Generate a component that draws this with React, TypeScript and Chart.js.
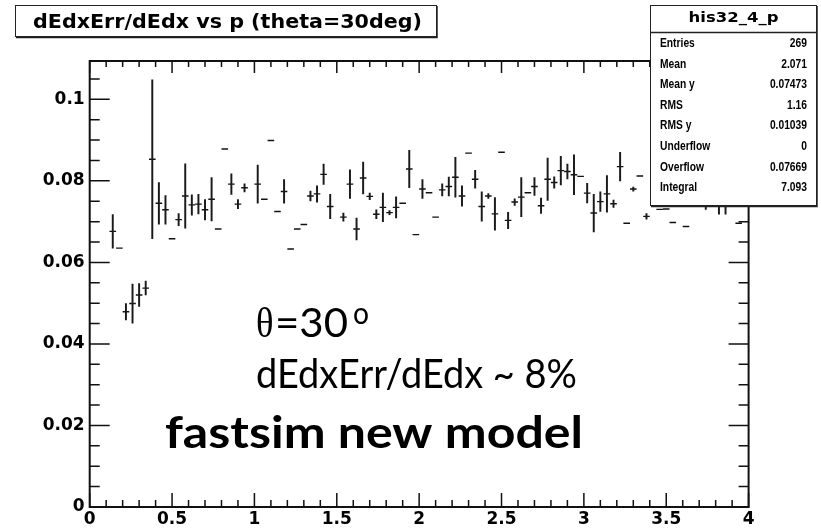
import { useEffect, useRef } from 'react';
import { Chart, registerables } from 'chart.js';

Chart.register(...registerables);

// ---- data ----
const TITLE = 'dEdxErr/dEdx vs p (theta=30deg)';
const HIST_NAME = 'his32_4_p';
const P_MIN = 0;
const P_MAX = 4;
const Y_MIN = 0;
const Y_MAX = 0.1094;
const BIN_WIDTH = 0.04; // 100 bins over 0..4

const BIN_INDEX = [
  3, 4, 5, 6, 7, 8, 9, 10, 11, 12, 13, 14, 15, 16, 17, 18, 19, 20, 21, 22,
  23, 25, 26, 27, 28, 29, 30, 31, 32, 33, 34, 35, 36, 38, 39, 40, 41, 42, 43, 44,
  45, 46, 47, 48, 49, 50, 51, 52, 53, 54, 55, 56, 57, 58, 59, 60, 61, 62, 63, 64,
  65, 66, 67, 68, 69, 70, 71, 72, 73, 74, 75, 76, 77, 78, 79, 80, 81, 82, 83, 84,
  86, 87, 88, 90, 93, 95, 96, 98,
];

const BIN_MEAN = [
  0.0676, 0.0635, 0.0479, 0.0499, 0.0520, 0.0537, 0.0853, 0.0745, 0.0729, 0.0658,
  0.0705, 0.0763, 0.0741, 0.0743, 0.0729, 0.0755, 0.0682, 0.0878, 0.0792, 0.0743,
  0.0783, 0.0792, 0.0755, 0.0899, 0.0725, 0.0774, 0.0633, 0.0682, 0.0693, 0.0763,
  0.0768, 0.0816, 0.0737, 0.0711, 0.0792, 0.0682, 0.0807, 0.0762, 0.0718, 0.0735,
  0.0722, 0.0735, 0.0745, 0.0829, 0.0668, 0.0780, 0.0771, 0.0711, 0.0778, 0.0786,
  0.0809, 0.0763, 0.0868, 0.0804, 0.0737, 0.0763, 0.0719, 0.0870, 0.0703, 0.0748,
  0.0760, 0.0771, 0.0786, 0.0739, 0.0804, 0.0796, 0.0825, 0.0823, 0.0815, 0.0811,
  0.0770, 0.0721, 0.0749, 0.0768, 0.0744, 0.0835, 0.0696, 0.0780, 0.0812, 0.0713,
  0.0730, 0.0731, 0.0698, 0.0688, 0.0790, 0.0800, 0.0790, 0.0696,
];

const BIN_ERROR = [
  0.0041, 0, 0.0020, 0.0048, 0.0028, 0.0017, 0.0195, 0.0051, 0.0035, 0,
  0.0015, 0.0079, 0.0025, 0.0024, 0.0025, 0.0053, 0, 0, 0.0025, 0.0011,
  0.0010, 0.0047, 0, 0, 0, 0.0029, 0, 0, 0, 0.0012,
  0.0020, 0.0025, 0.0030, 0.0010, 0.0035, 0.0027, 0.0039, 0.0008, 0.0011, 0.0035,
  0.0005, 0.0026, 0, 0.0046, 0, 0.0023, 0, 0, 0.0015, 0.0023,
  0.0049, 0.0025, 0, 0.0022, 0.0036, 0.0006, 0.0040, 0, 0.0020, 0.0008,
  0.0048, 0, 0.0022, 0.0019, 0.0052, 0.0014, 0.0035, 0.0018, 0.0049, 0,
  0.0024, 0.0046, 0.0024, 0.0045, 0.0009, 0.0035, 0, 0.0005, 0, 0.0007,
  0, 0, 0, 0, 0.0060, 0.0082, 0.0072, 0,
];

const X_MAJOR_STEP = 0.5;
const X_MINOR_DIV = 5;
const Y_MAJOR_STEP = 0.02;
const Y_MINOR_DIV = 4;

const STAT_LABELS = ['Entries', 'Mean', 'Mean y', 'RMS', 'RMS y', 'Underflow', 'Overflow', 'Integral'];
const STAT_VALUES = ['269', '2.071', '0.07473', '1.16', '0.01039', '0', '0.07669', '7.093'];

const NOTE_ANGLE = '=30';
const NOTE_RATIO = 'dEdxErr/dEdx ~ 8%';
const NOTE_MODEL = 'fastsim new model';

// ---- helpers ----
const fmt = (v: number) => String(Number(Number(v).toFixed(4)));

function fitText(
  ctx: CanvasRenderingContext2D,
  text: string,
  x: number,
  y: number,
  font: string,
  width: number | null,
  align: CanvasTextAlign = 'left',
  scaleX?: number,
) {
  ctx.save();
  ctx.font = font;
  ctx.textAlign = align;
  ctx.textBaseline = 'alphabetic';
  const w = ctx.measureText(text).width;
  const s = scaleX != null ? scaleX : width ? width / w : 1;
  ctx.translate(x, y);
  ctx.scale(s, 1);
  ctx.fillText(text, 0, 0);
  ctx.restore();
}

const framePlugin = {
  id: 'rootFrame',
  afterDraw(chart: any) {
    const { ctx, chartArea: a, scales } = chart;
    const xs = scales.x;
    const ys = scales.y;
    ctx.save();
    ctx.strokeStyle = '#111';
    ctx.fillStyle = '#000';

    // ticks
    ctx.lineWidth = 1.5;
    ctx.beginPath();
    const xMinor = X_MAJOR_STEP / X_MINOR_DIV;
    const nx = Math.round((P_MAX - P_MIN) / xMinor);
    for (let k = 0; k <= nx; k++) {
      const v = P_MIN + k * xMinor;
      const px = xs.getPixelForValue(v);
      const major = k % X_MINOR_DIV === 0;
      ctx.moveTo(px, a.bottom);
      ctx.lineTo(px, a.bottom - (major ? 14 : 7));
      ctx.moveTo(px, a.top);
      ctx.lineTo(px, a.top + (major ? 12 : 6));
    }
    const yMinor = Y_MAJOR_STEP / Y_MINOR_DIV;
    for (let k = 0; Y_MIN + k * yMinor <= Y_MAX + 1e-9; k++) {
      const v = Y_MIN + k * yMinor;
      const py = ys.getPixelForValue(v);
      const major = k % Y_MINOR_DIV === 0;
      ctx.moveTo(a.left, py);
      ctx.lineTo(a.left + (major ? 20 : 10), py);
      ctx.moveTo(a.right, py);
      ctx.lineTo(a.right - (major ? 20 : 10), py);
    }
    ctx.stroke();

    // frame
    ctx.lineWidth = 2;
    ctx.strokeRect(a.left, a.top, a.right - a.left, a.bottom - a.top);

    // title box
    ctx.fillStyle = '#fff';
    ctx.fillRect(15, 5, 422, 32);
    ctx.lineWidth = 1;
    ctx.strokeStyle = '#222';
    ctx.strokeRect(15.5, 5.5, 421, 31);
    ctx.lineWidth = 1.5;
    ctx.beginPath();
    ctx.moveTo(437, 6);
    ctx.lineTo(437, 37.5);
    ctx.lineTo(16, 37.5);
    ctx.stroke();
    ctx.fillStyle = '#000';
    fitText(ctx, TITLE, 33, 28, 'bold 20px "DejaVu Sans"', 389);

    // stats box
    const bx = 650, by = 5, bw = 167, bh = 201;
    ctx.fillStyle = '#fff';
    ctx.fillRect(bx, by, bw, bh);
    ctx.lineWidth = 1;
    ctx.strokeStyle = '#222';
    ctx.strokeRect(bx + 0.5, by + 0.5, bw - 1, bh - 1);
    ctx.lineWidth = 1.5;
    ctx.beginPath();
    ctx.moveTo(bx + bw, by + 1);
    ctx.lineTo(bx + bw, by + bh + 0.5);
    ctx.lineTo(bx + 1, by + bh + 0.5);
    ctx.moveTo(bx, 32.5);
    ctx.lineTo(bx + bw, 32.5);
    ctx.stroke();
    ctx.fillStyle = '#000';
    fitText(ctx, HIST_NAME, bx + bw / 2, 22, 'bold 14px "DejaVu Sans"', 90, 'center');
    const rowFont = 'bold 13px "Liberation Sans"';
    STAT_LABELS.forEach((lab, i) => {
      const yy = 47 + i * 20.6;
      fitText(ctx, lab, 660, yy, rowFont, null, 'left', 0.79);
      fitText(ctx, STAT_VALUES[i], 807, yy, rowFont, null, 'right', 0.79);
    });

    // annotations
    fitText(ctx, '\u03b8', 256, 336.5, '42px "Liberation Serif"', 17.5);
    fitText(ctx, NOTE_ANGLE, 275, 336.5, '40px Lato', 73);
    fitText(ctx, 'o', 353, 323.5, '30px Lato', 16);
    fitText(ctx, NOTE_RATIO, 256, 388.3, '40px Lato', 321);
    fitText(ctx, NOTE_MODEL, 165, 448, 'bold 44px Lato', 418);

    ctx.restore();
  },
};

export default function App() {
  const ref = useRef<HTMLCanvasElement | null>(null);

  useEffect(() => {
    if (!ref.current) return;
    const centers = BIN_INDEX.map((b) => (b + 0.5) * BIN_WIDTH);
    const points = centers.map((x, i) => ({ x, y: BIN_MEAN[i] }));
    const bars = centers
      .map((x, i) => ({ x, y: [BIN_MEAN[i] - BIN_ERROR[i], BIN_MEAN[i] + BIN_ERROR[i]] }))
      .filter((_, i) => BIN_ERROR[i] > 0);

    const halfBin = (ctx: any) => {
      const xs = ctx.chart.scales?.x;
      if (!xs) return 3.3;
      return Math.abs(xs.getPixelForValue(BIN_WIDTH) - xs.getPixelForValue(0)) / 2;
    };

    const tickFont = { family: '"DejaVu Sans"', size: 17, weight: 'bold' as const };

    const chart = new Chart(ref.current, {
      type: 'scatter',
      data: {
        datasets: [
          {
            type: 'bar',
            data: bars as any,
            backgroundColor: '#1a1a1a',
            borderWidth: 0,
            barThickness: 1.3,
            grouped: false,
          } as any,
          {
            type: 'scatter',
            data: points,
            pointStyle: 'line',
            radius: halfBin,
            hoverRadius: halfBin,
            borderColor: '#111',
            borderWidth: 1.4,
            backgroundColor: '#111',
          } as any,
        ],
      },
      options: {
        responsive: false,
        animation: false,
        devicePixelRatio: 1,
        events: [],
        layout: { padding: { left: 0, right: 72.4, top: 61, bottom: 0 } },
        plugins: { legend: { display: false }, tooltip: { enabled: false }, title: { display: false } },
        scales: {
          x: {
            type: 'linear',
            min: P_MIN,
            max: P_MAX,
            offset: false,
            grid: { display: false, drawTicks: false },
            border: { display: false },
            ticks: {
              stepSize: X_MAJOR_STEP,
              autoSkip: false,
              maxRotation: 0,
              padding: 2,
              color: '#000',
              font: tickFont,
              callback: (v: any) => fmt(v),
            },
            afterFit: (s: any) => {
              s.height = 22;
            },
          },
          y: {
            type: 'linear',
            min: Y_MIN,
            max: Y_MAX,
            grid: { display: false, drawTicks: false },
            border: { display: false },
            ticks: {
              stepSize: Y_MAJOR_STEP,
              includeBounds: false,
              padding: 5,
              color: '#000',
              font: tickFont,
              callback: (v: any) => fmt(v),
            },
            afterFit: (s: any) => {
              s.width = 89.7;
            },
          },
        },
      } as any,
      plugins: [framePlugin],
    });
    return () => chart.destroy();
  }, []);

  return (
    <div style={{ position: 'absolute', left: 0, top: 0, width: 821, height: 529, background: '#fff' }}>
      <canvas ref={ref} width={821} height={529} />
    </div>
  );
}
